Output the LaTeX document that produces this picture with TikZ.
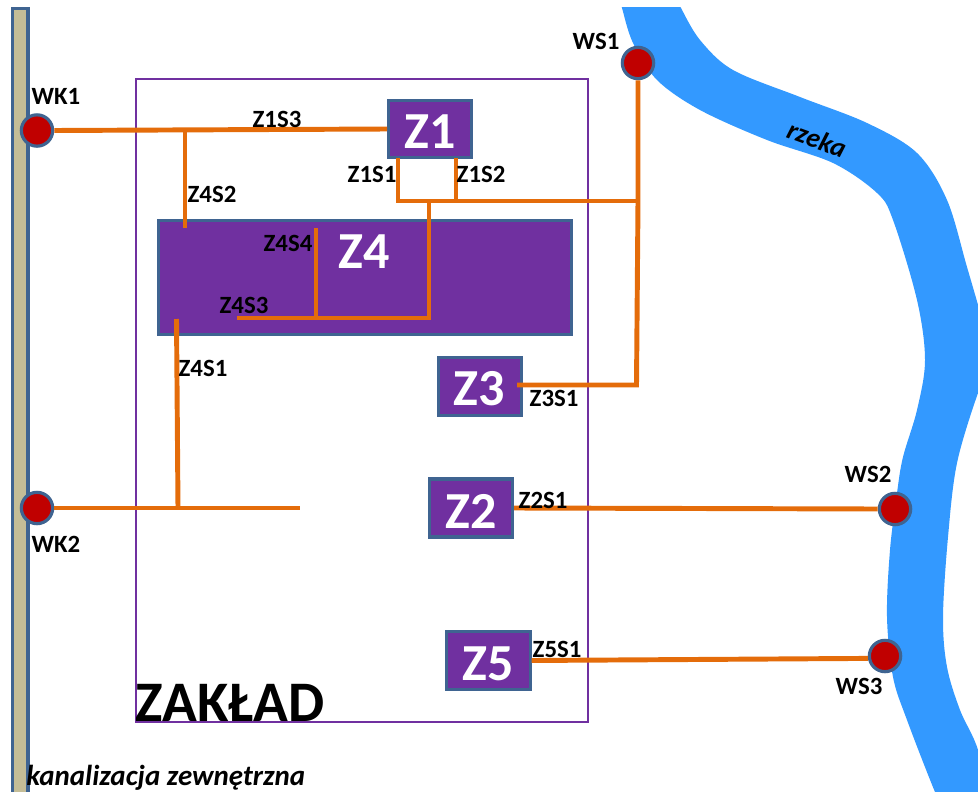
\documentclass[tikz,border=0pt]{standalone}
\usepackage{fontspec}
\setmainfont{Carlito}
\definecolor{zpurple}{HTML}{7030A0}
\definecolor{zborder}{HTML}{3F6491}
\definecolor{zorange}{HTML}{E46C0A}
\definecolor{zred}{HTML}{C00000}
\definecolor{zriver}{HTML}{3399FF}
\definecolor{zbar}{HTML}{C4BD97}
\tikzset{
  plantbox/.style={draw=zborder,fill=zpurple,line width=2.3pt,inner sep=0pt},
  unittitle/.style={inner sep=0pt,text=white,font=\fontsize{39}{39}\bfseries\selectfont},
  outfall/.style={circle,draw=zborder,fill=zred,line width=2.4pt,minimum size=23.5pt,inner sep=0pt},
  pipe/.style={draw=zorange,line width=3.7pt,line join=miter},
  lab/.style={inner sep=0pt,text=black,font=\fontsize{18.6}{18.6}\bfseries\selectfont},
}
\begin{document}
\begin{tikzpicture}[x=0.75pt,y=-0.75pt]
\useasboundingbox (0,0) rectangle (978,792);
% river
\begin{scope}
\clip (0,8) rectangle (978,792);
\fill[zriver] plot[smooth,tension=0.55] coordinates {(620,0) (622,8) (633,43) (657,80) (700,110) (767,140) (833,163) (877,193) (893,220) (917,300) (925,360) (917,410) (903,457) (897,493) (890,550) (887,617) (893,677) (907,720) (935,792) (945,810)}
 -- plot[smooth,tension=0.55] coordinates {(990,810) (978,750) (960,710) (947,667) (943,617) (948,537) (957,463) (978,393) (992,363) (985,330) (967,267) (947,200) (917,153) (867,123) (800,97) (733,70) (700,40) (681,8) (678,0)} -- cycle;
\end{scope}
% sewer
\path[draw=zborder,fill=zbar,line width=2.3pt] (12.5,8.5) rectangle (28,795);
% plant outline
\draw[draw=zpurple,line width=2.2pt] (136,79) rectangle (588,722);
% units
\node[plantbox,minimum width=62pt,minimum height=43pt] (Z1) at (430,129) {};
\node[plantbox,minimum width=310pt,minimum height=86pt] (Z4) at (365,277.5) {};
\node[plantbox,minimum width=62.5pt,minimum height=43.5pt] (Z3) at (480,386.5) {};
\node[plantbox,minimum width=62.5pt,minimum height=43.5pt] (Z2) at (471,508) {};
\node[plantbox,minimum width=62.5pt,minimum height=43.5pt] (Z5) at (488.5,660.5) {};
% outfalls
\node[outfall] (WK1) at (37,130.5) {};
\node[outfall] (WK2) at (37,508) {};
\node[outfall] (WS1) at (638,63) {};
\node[outfall] (WS2) at (895,509) {};
\node[outfall] (WS3) at (885,656) {};
% junctions
\coordinate (j42top) at (185,130);
\coordinate (j42end) at (185,228);
\coordinate (j11top) at (398,158);
\coordinate (j11bot) at (398,201);
\coordinate (j12top) at (456,158);
\coordinate (j12bot) at (456,201);
\coordinate (jmid) at (429,201);
\coordinate (jmidbot) at (429,318);
\coordinate (j43end) at (237,318);
\coordinate (j44top) at (316,228);
\coordinate (j44bot) at (316,318);
\coordinate (jws1) at (638,201);
\coordinate (jws1bot) at (636.5,385);
\coordinate (j31end) at (517,385);
\coordinate (j41top) at (176.5,319);
\coordinate (j41bot) at (178,508);
\coordinate (jwk2end) at (300,508);
% pipes
\draw[pipe] (WK1.east) -- (Z1.west);
\draw[pipe] (j42top) -- (j42end);
\draw[pipe] (j11top) -- (j11bot) -- (jws1);
\draw[pipe] (j12top) -- (j12bot);
\draw[pipe] (jmid) -- (jmidbot) -- (j43end);
\draw[pipe] (j44top) -- (j44bot);
\draw[pipe] (WS1.south) -- (jws1) -- (jws1bot) -- (j31end);
\draw[pipe] (j41top) -- (j41bot);
\draw[pipe] (WK2.east) -- (jwk2end);
\draw[pipe] (Z2.east) -- (WS2.west);
\draw[pipe] (Z5.east) -- (WS3.188);
% unit titles
\node[unittitle] (tZ1) at (430,132) {Z1};
\node[unittitle] (tZ4) at (364,252) {Z4};
\node[unittitle] (tZ3) at (479,389) {Z3};
\node[unittitle] (tZ2) at (471,511) {Z2};
\node[unittitle] (tZ5) at (488,664) {Z5};
% labels
\node[lab] (lWK1) at (56,96) {WK1};
\node[lab] (lWK2) at (56,544) {WK2};
\node[lab] (lWS1) at (596,41) {WS1};
\node[lab] (lWS2) at (868,474) {WS2};
\node[lab] (lWS3) at (859,686) {WS3};
\node[lab] (l13) at (277,119) {Z1S3};
\node[lab] (l42) at (212,194) {Z4S2};
\node[lab] (l11) at (372,174) {Z1S1};
\node[lab] (l12) at (481,174) {Z1S2};
\node[lab] (l44) at (288,243) {Z4S4};
\node[lab] (l43) at (244,305) {Z4S3};
\node[lab] (l41) at (203,368) {Z4S1};
\node[lab] (l31) at (554,398) {Z3S1};
\node[lab] (l21) at (543,500) {Z2S1};
\node[lab] (l51) at (557,649) {Z5S1};
\node[lab,font=\fontsize{20.5}{20.5}\bfseries\itshape\selectfont,rotate=-20] (lr) at (817,139) {rzeka};
\node[inner sep=0pt,anchor=base west,font=\fontsize{43}{43}\bfseries\selectfont] (lz) at (135,721) {ZAKŁAD};
\node[inner sep=0pt,anchor=base west,font=\fontsize{21.7}{21.7}\bfseries\itshape\selectfont] (lk) at (26,785) {kanalizacja zewnętrzna};
\end{tikzpicture}
\end{document}
